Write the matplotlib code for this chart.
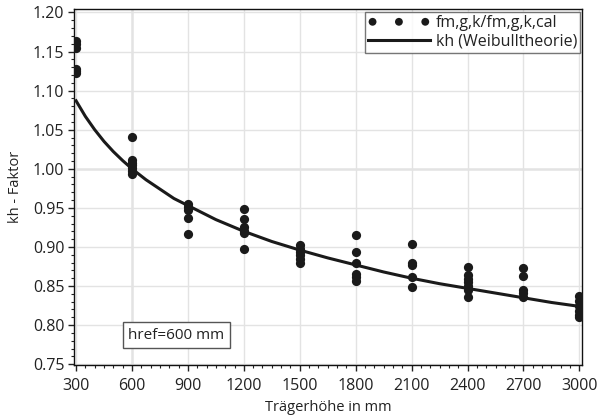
import numpy as np
import matplotlib
matplotlib.use("Agg")
import matplotlib.pyplot as plt
from matplotlib.ticker import MultipleLocator

plt.rcParams['font.family'] = ['Open Sans', 'DejaVu Sans']

# Messwerte fm,g,k/fm,g,k,cal je Trägerhöhe
hoehen = [300, 600, 900, 1200, 1500, 1800, 2100, 2400, 2700, 3000]
messwerte = [
    [1.163, 1.160, 1.155, 1.128, 1.125, 1.122],
    [1.041, 1.011, 1.008, 1.005, 1.001, 0.997, 0.993],
    [0.955, 0.951, 0.947, 0.937, 0.917],
    [0.949, 0.936, 0.926, 0.921, 0.918, 0.897],
    [0.902, 0.898, 0.893, 0.890, 0.885, 0.879],
    [0.915, 0.894, 0.879, 0.865, 0.861, 0.857],
    [0.904, 0.880, 0.877, 0.861, 0.849],
    [0.875, 0.864, 0.859, 0.855, 0.850, 0.845, 0.836],
    [0.873, 0.863, 0.845, 0.841, 0.836],
    [0.837, 0.831, 0.825, 0.818, 0.813, 0.810],
]

# kh (Weibulltheorie)
kurve_h = [300, 350, 400, 450, 500, 550, 600, 675, 750, 825, 900, 1050, 1200, 1350,
           1500, 1650, 1800, 1950, 2100, 2250, 2400, 2550, 2700, 2850, 3000]
kurve_kh = [1.087, 1.067, 1.050, 1.035, 1.022, 1.0105, 1.000, 0.986, 0.974, 0.962,
            0.953, 0.935, 0.920, 0.907, 0.896, 0.886, 0.877, 0.868, 0.860, 0.853,
            0.847, 0.841, 0.835, 0.829, 0.824]

x_pts = []
y_pts = []
for h, werte in zip(hoehen, messwerte):
    for v in werte:
        x_pts.append(h)
        y_pts.append(v)

fig = plt.figure(figsize=(6.0, 4.17), dpi=100)
ax = fig.add_axes([74 / 600, 1 - 365 / 417, (582 - 74) / 600, (365 - 9) / 417])

txt = '#222222'
ax.grid(True, color='#e3e3e3', linewidth=1.0, zorder=0)
ax.axvline(600, color='#999999', linewidth=1.0, zorder=1)
ax.axhline(1.0, color='#999999', linewidth=1.0, zorder=1)

ax.scatter(x_pts, y_pts, s=44, color='#1a1a1a', zorder=3, linewidths=0,
           label='fm,g,k/fm,g,k,cal')
ax.plot(kurve_h, kurve_kh, color='#1a1a1a', linewidth=2.2, zorder=4,
        label='kh (Weibulltheorie)')

ax.set_xlim(289, 3014)
ax.set_ylim(0.749, 1.2044)
ax.set_xticks(hoehen)
ax.xaxis.set_minor_locator(MultipleLocator(50))
ax.yaxis.set_major_locator(MultipleLocator(0.05))
ax.yaxis.set_minor_locator(MultipleLocator(0.01))
ax.yaxis.set_major_formatter(matplotlib.ticker.FormatStrFormatter('%.2f'))
ax.tick_params(which='major', direction='out', length=4, width=1, labelsize=11.5,
               colors=txt)
ax.tick_params(axis='x', which='major', pad=5)
ax.tick_params(axis='y', which='major', pad=3)
ax.tick_params(which='minor', direction='out', length=2, width=0.8, colors=txt)
for s in ax.spines.values():
    s.set_color('#111111')
    s.set_linewidth(1.0)

ax.set_xlabel('Trägerhöhe in mm', fontsize=10.5, color=txt, labelpad=5)
ax.set_ylabel('kh - Faktor', fontsize=10.5, color=txt, labelpad=7)

leg = ax.legend(loc='upper right', bbox_to_anchor=(0.9965, 0.991), fontsize=11.5,
                scatterpoints=3, scatteryoffsets=[0.5], markerscale=0.85,
                frameon=True, fancybox=False,
                borderpad=0.2, labelspacing=0.15, handlelength=3.9, handletextpad=0.35,
                borderaxespad=0)
leg.get_frame().set_edgecolor('#555555')
leg.get_frame().set_linewidth(1.0)
for t in leg.get_texts():
    t.set_color(txt)

ax.text(837, 0.787, 'href=600 mm', fontsize=11, color=txt, ha='center', va='center',
        zorder=5, bbox=dict(boxstyle='square,pad=0.35', facecolor='white',
                            edgecolor='#555555', linewidth=1.0))

fig.savefig('out.png', dpi=100)
